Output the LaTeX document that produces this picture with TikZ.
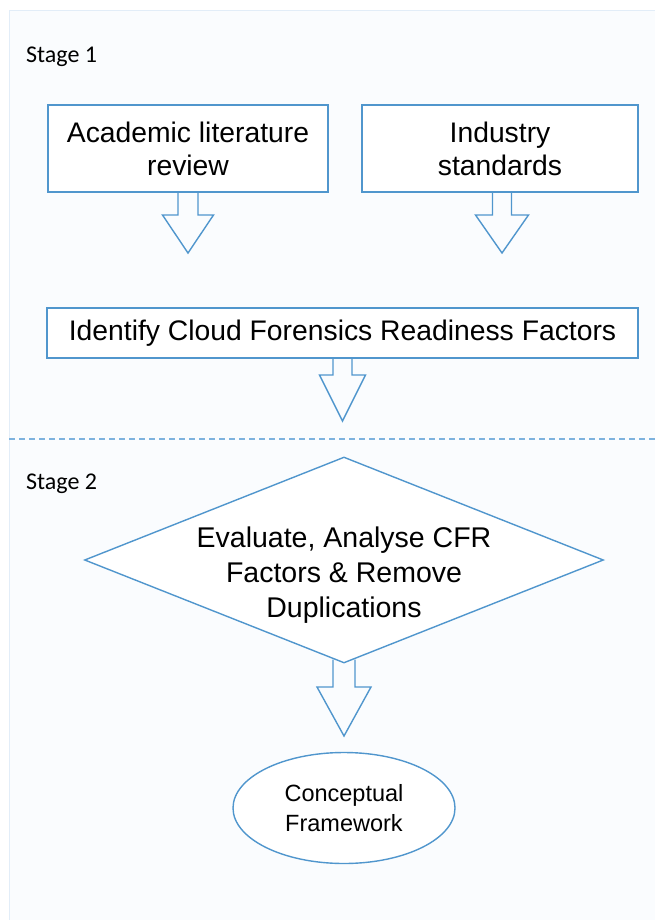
\documentclass[tikz,border=0pt]{standalone}
\usepackage{fontspec}
\setmainfont{Liberation Sans}
\newfontfamily\stagefont{Carlito}
\usetikzlibrary{calc,shapes.geometric}
\definecolor{lineblue}{RGB}{80,150,205}
\definecolor{dashblue}{RGB}{125,178,222}
\definecolor{panelfill}{RGB}{250,252,254}
\definecolor{panelborder}{RGB}{226,237,248}
\tikzset{
  shapeline/.style={draw=lineblue, line width=1.4pt, fill=white},
  boxnode/.style={shapeline, rectangle, inner sep=0pt, align=center,
    font=\fontsize{28.3}{33}\selectfont},
  arrowline/.style={draw=lineblue, line width=1.4pt, line join=miter},
  stagelabel/.style={anchor=base west, inner sep=0pt,
    font=\stagefont\fontsize{24}{27}\selectfont},
}
\newcommand\blockarrow[5]{%
  \draw[arrowline] ($(#1)+(-#3,0)$) -- ($(#1 |- #2)+(-#3,-#5)$)
    -- ($(#1 |- #2)+(-#4,-#5)$) -- (#1 |- #2) -- ($(#1 |- #2)+(#4,-#5)$)
    -- ($(#1 |- #2)+(#3,-#5)$) -- ($(#1)+(#3,0)$);}
\begin{document}
\begin{tikzpicture}[x=1pt,y=-1pt]
\useasboundingbox (0,0) rectangle (655,920);
% panel
\fill[panelfill] (9,11) rectangle (655,920);
\draw[panelborder, line width=1pt] (9,920) -- (9,11) -- (655,11);
% stage labels
\node[stagelabel] (s1) at (26,63) {Stage 1};
\node[stagelabel] (s2) at (26,489) {Stage 2};
% divider
\coordinate (dl) at (9,439);
\coordinate (dr) at (655,439);
\draw[dashblue, line width=1.3pt, dash pattern=on 6pt off 4pt] (dl) -- (dr);
% boxes
\node[boxnode, minimum width=280pt, minimum height=87pt] (a) at (188,148.5)
  {Academic literature\\review};
\node[boxnode, minimum width=276pt, minimum height=87pt] (b) at (500,148.5)
  {Industry\\standards};
\node[boxnode, minimum width=591pt, minimum height=50pt] (c) at (342.5,333)
  {Identify Cloud Forensics Readiness Factors};
% diamond
\node[shapeline, diamond, aspect=2.5, inner sep=0pt, minimum width=519pt,
  minimum height=206pt] (d) at (344,560) {};
\node[align=center, inner sep=0pt, font=\fontsize{28.5}{35}\selectfont] (dt)
  at (344,575) {Evaluate, Analyse CFR\\Factors \& Remove\\Duplications};
% ellipse
\node[shapeline, ellipse, inner sep=0pt, minimum width=222pt, minimum height=111pt,
  align=center, font=\fontsize{23.5}{30}\selectfont] (e) at (344,808)
  {Conceptual\\Framework};
% arrow tips
\coordinate (tA) at (187,253);
\coordinate (tB) at (502,253);
\coordinate (tC) at (343,421);
\coordinate (tD) at (344,736);
\coordinate (dS) at ($(d.south)+(0,-4)$);
\coordinate (bS) at ($(b.south)+(2,0)$);
\blockarrow{a.south}{tA}{10}{25.5}{38}
\blockarrow{bS}{tB}{9.5}{26.5}{38}
\blockarrow{c.south}{tC}{9.5}{23}{46}
\blockarrow{dS}{tD}{11}{27}{49}
\end{tikzpicture}
\end{document}
